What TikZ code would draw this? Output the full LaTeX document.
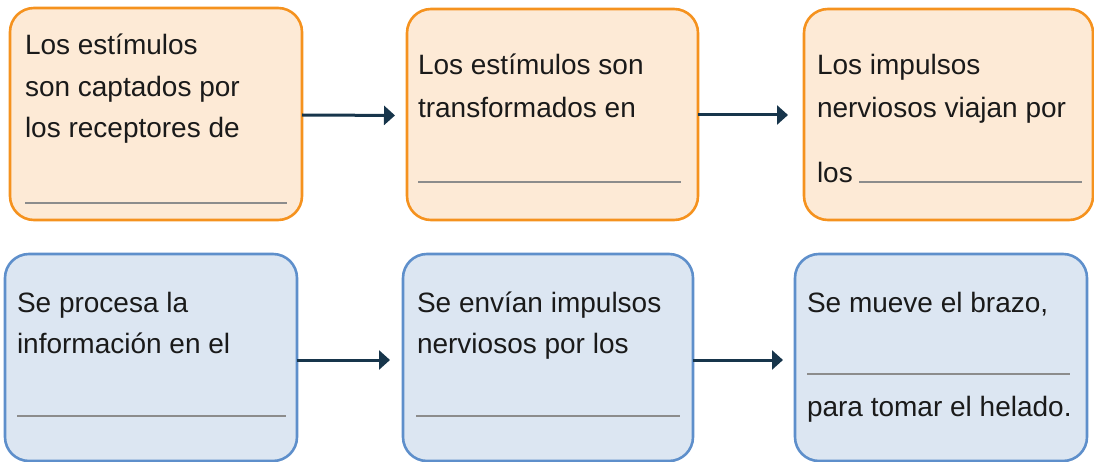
\documentclass[tikz,border=0pt]{standalone}
\usepackage{fontspec}
\setmainfont{Liberation Sans}
\usetikzlibrary{arrows.meta}
\definecolor{obord}{HTML}{F5921E}
\definecolor{ofill}{HTML}{FDEAD6}
\definecolor{bbord}{HTML}{5E8FCB}
\definecolor{bfill}{HTML}{DCE6F2}
\definecolor{arrc}{HTML}{17354B}
\definecolor{blankc}{HTML}{8C8C8C}
\definecolor{txtc}{HTML}{1A1A1A}
\tikzset{
  box/.style={rectangle, rounded corners=24pt, line width=2.6pt, inner sep=0pt, outer sep=0pt},
  obox/.style={box, draw=obord, fill=ofill},
  bbox/.style={box, draw=bbord, fill=bfill},
  txt/.style={anchor=base west, inner sep=0pt, outer sep=0pt, text=txtc, font=\fontsize{28}{34}\selectfont},
  blank/.style={draw=blankc, line width=2pt},
  arr/.style={draw=arrc, line width=3pt, -{Triangle[length=11pt,width=19pt]}}
}
\begin{document}
\begin{tikzpicture}[x=1pt,y=-1pt]
\useasboundingbox (0,0) rectangle (1094,462);
% boxes
\node[obox, minimum width=292pt, minimum height=212pt] (b1) at (156,114) {};
\node[obox, minimum width=291pt, minimum height=211pt] (b2) at (552.5,114.5) {};
\node[obox, minimum width=289pt, minimum height=211pt] (b3) at (948.5,114.5) {};
\node[bbox, minimum width=292pt, minimum height=207pt] (b4) at (151,357.5) {};
\node[bbox, minimum width=290pt, minimum height=207pt] (b5) at (548,357.5) {};
\node[bbox, minimum width=292pt, minimum height=207pt] (b6) at (941,357.5) {};
% texts box 1
\node[txt] (t11) at (25,55) {Los estímulos};
\node[txt] (t12) at (25,97) {son captados por};
\node[txt] (t13) at (25,138) {los receptores de};
\coordinate (l1a) at (25,203); \coordinate (l1b) at (287,203);
\draw[blank] (l1a) -- (l1b);
% box 2
\node[txt] (t21) at (418,75) {Los estímulos son};
\node[txt] (t22) at (418,118) {transformados en};
\coordinate (l2a) at (418,182); \coordinate (l2b) at (681,182);
\draw[blank] (l2a) -- (l2b);
% box 3
\node[txt] (t31) at (817,75) {Los impulsos};
\node[txt] (t32) at (817,118) {nerviosos viajan por};
\node[txt] (t33) at (817,183) {los};
\coordinate (l3a) at (859,182); \coordinate (l3b) at (1082,182);
\draw[blank] (l3a) -- (l3b);
% box 4
\node[txt] (t41) at (17,312) {Se procesa la};
\node[txt] (t42) at (17,353) {información en el};
\coordinate (l4a) at (17,416); \coordinate (l4b) at (286,416);
\draw[blank] (l4a) -- (l4b);
% box 5
\node[txt] (t51) at (417,312) {Se envían impulsos};
\node[txt] (t52) at (417,353) {nerviosos por los};
\coordinate (l5a) at (416,416); \coordinate (l5b) at (680,416);
\draw[blank] (l5a) -- (l5b);
% box 6
\node[txt] (t61) at (807,312) {Se mueve el brazo,};
\node[txt] (t62) at (807,416) {para tomar el helado.};
\coordinate (l6a) at (807,374); \coordinate (l6b) at (1070,374);
\draw[blank] (l6a) -- (l6b);
% arrows
\draw[arr, shorten >=12pt] ([yshift=-1pt]b1.east) -- ([yshift=-1pt]b2.west);
\draw[arr, shorten >=16pt] ([yshift=-0.5pt]b2.east) -- ([yshift=-0.5pt]b3.west);
\draw[arr, shorten >=13pt] ([yshift=-2.5pt]b4.east) -- ([yshift=-2.5pt]b5.west);
\draw[arr, shorten >=12pt] ([yshift=-2.5pt]b5.east) -- ([yshift=-2.5pt]b6.west);
\end{tikzpicture}
\end{document}
